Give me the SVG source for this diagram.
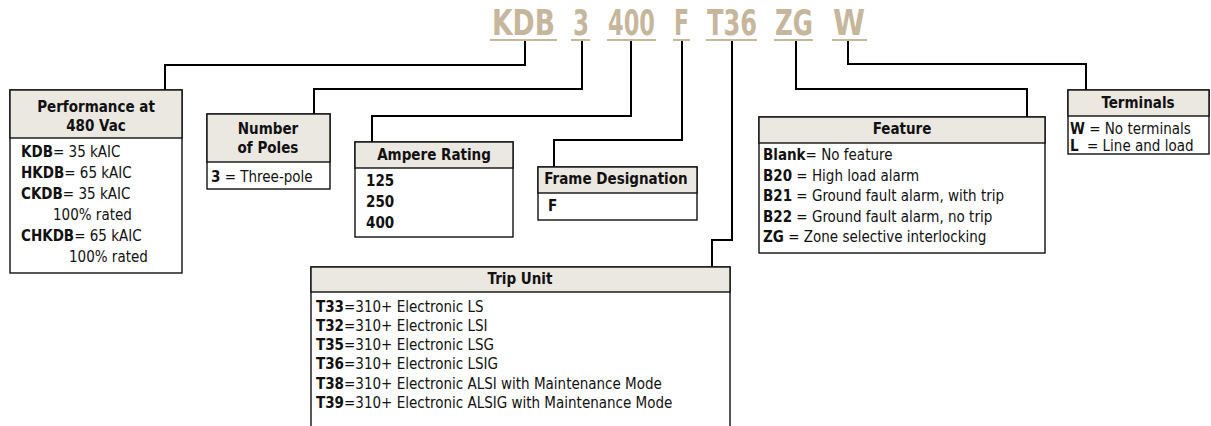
<svg xmlns="http://www.w3.org/2000/svg" width="1211" height="426" viewBox="0 0 1211 426">
<style>
text{font-family:"Liberation Sans Narrow","DejaVu Sans Condensed","Liberation Sans",sans-serif;font-stretch:condensed;font-size:15px;fill:#111}
.code{font-size:35px;font-weight:bold;fill:#c5b69c;text-anchor:middle}
.ul{stroke:#c5b69c;stroke-width:2}
.hd{fill:#ebe7e1;stroke:#111;stroke-width:1.4}
.bd{fill:#fff;stroke:#111;stroke-width:1.4}
.h{font-weight:bold;text-anchor:middle;font-size:15px}
.b{font-weight:bold}
.conn path{fill:none;stroke:#000;stroke-width:2}
</style>
<g id="code">
<text class="code" x="523.5" y="35" textLength="63" lengthAdjust="spacingAndGlyphs">KDB</text>
<text class="code" x="581" y="35" textLength="16" lengthAdjust="spacingAndGlyphs">3</text>
<text class="code" x="631.5" y="35" textLength="47" lengthAdjust="spacingAndGlyphs">400</text>
<text class="code" x="681.5" y="35" textLength="15" lengthAdjust="spacingAndGlyphs">F</text>
<text class="code" x="732" y="35" textLength="50" lengthAdjust="spacingAndGlyphs">T36</text>
<text class="code" x="794" y="35" textLength="38" lengthAdjust="spacingAndGlyphs">ZG</text>
<text class="code" x="849" y="35" textLength="32" lengthAdjust="spacingAndGlyphs">W</text>
<path class="ul" d="M490,40H557M571,40H590M607,40H656M673,40H690M706,40H757M774,40H813M832,40H867"/>
</g>
<g class="conn" id="connectors">
<path d="M525,41V65H165V90"/>
<path d="M582,41V89H314V114"/>
<path d="M631,41V116H372V142"/>
<path d="M682,41V140H554V167"/>
<path d="M732,41V240H712V267"/>
<path d="M796,41V89H1027V117"/>
<path d="M848,41V64H1086V90"/>
</g>
<g id="performance">
<rect class="bd" x="10" y="90" width="172" height="183"/>
<rect class="hd" x="10" y="90" width="172" height="48"/>
<text class="h" x="96" y="112">Performance at</text>
<text class="h" x="96" y="131">480 Vac</text>
<text x="21" y="157"><tspan class="b">KDB</tspan>= 35 kAIC</text>
<text x="21" y="178"><tspan class="b">HKDB</tspan>= 65 kAIC</text>
<text x="21" y="199"><tspan class="b">CKDB</tspan>= 35 kAIC</text>
<text x="53" y="220">100% rated</text>
<text x="21" y="241"><tspan class="b">CHKDB</tspan>= 65 kAIC</text>
<text x="69" y="262">100% rated</text>
</g>
<g id="poles">
<rect class="bd" x="207" y="114" width="123" height="75"/>
<rect class="hd" x="207" y="114" width="123" height="48"/>
<text class="h" x="268" y="134">Number</text>
<text class="h" x="268" y="153">of Poles</text>
<text x="211" y="182"><tspan class="b">3</tspan> = Three-pole</text>
</g>
<g id="ampere">
<rect class="bd" x="355" y="142" width="158" height="95"/>
<rect class="hd" x="355" y="142" width="158" height="26"/>
<text class="h" x="434" y="160">Ampere Rating</text>
<text class="b" x="366" y="186">125</text>
<text class="b" x="366" y="207">250</text>
<text class="b" x="366" y="228">400</text>
</g>
<g id="frame">
<rect class="bd" x="538" y="167" width="159" height="53"/>
<rect class="hd" x="538" y="167" width="159" height="26"/>
<text class="h" x="616" y="184">Frame Designation</text>
<text class="b" x="548" y="211">F</text>
</g>
<g id="trip">
<rect class="bd" x="311" y="267" width="419" height="165"/>
<rect class="hd" x="311" y="267" width="419" height="25"/>
<text class="h" x="520" y="284">Trip Unit</text>
<text x="316" y="312"><tspan class="b">T33</tspan>=310+ Electronic LS</text>
<text x="316" y="331"><tspan class="b">T32</tspan>=310+ Electronic LSI</text>
<text x="316" y="350"><tspan class="b">T35</tspan>=310+ Electronic LSG</text>
<text x="316" y="369"><tspan class="b">T36</tspan>=310+ Electronic LSIG</text>
<text x="316" y="389"><tspan class="b">T38</tspan>=310+ Electronic ALSI with Maintenance Mode</text>
<text x="316" y="408"><tspan class="b">T39</tspan>=310+ Electronic ALSIG with Maintenance Mode</text>
</g>
<g id="feature">
<rect class="bd" x="759" y="117" width="286" height="136"/>
<rect class="hd" x="759" y="117" width="286" height="26"/>
<text class="h" x="902" y="134">Feature</text>
<text x="763" y="160"><tspan class="b">Blank</tspan>= No feature</text>
<text x="763" y="181"><tspan class="b">B20</tspan> = High load alarm</text>
<text x="763" y="201"><tspan class="b">B21</tspan> = Ground fault alarm, with trip</text>
<text x="763" y="222"><tspan class="b">B22</tspan> = Ground fault alarm, no trip</text>
<text x="763" y="242"><tspan class="b">ZG</tspan> = Zone selective interlocking</text>
</g>
<g id="terminals">
<rect class="bd" x="1068" y="90" width="141" height="64"/>
<rect class="hd" x="1068" y="90" width="141" height="26"/>
<text class="h" x="1138" y="108">Terminals</text>
<text x="1070" y="134"><tspan class="b">W</tspan> = No terminals</text>
<text x="1070" y="151"><tspan class="b">L</tspan><tspan x="1087">= Line and load</tspan></text>
</g>
</svg>
